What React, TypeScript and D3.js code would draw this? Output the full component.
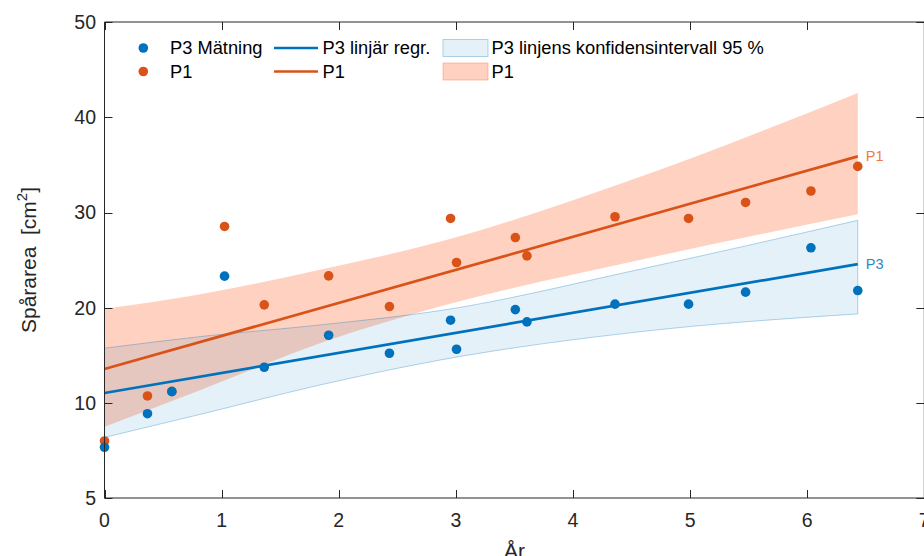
import React from 'react';
import * as d3 from 'd3';

// Measurement times (years) and track area (cm²) for the two sites
const years = [0, 0.367, 0.575, 1.025, 1.364, 1.914, 2.433, 2.955, 3.006, 3.508, 3.607, 4.359, 4.987, 5.474, 6.032, 6.432];
const p3Area = [7.68, 9.45, 11.22, 23.34, 13.78, 17.14, 15.25, 18.72, 15.67, 19.83, 18.54, 20.4, 20.4, 21.66, 26.31, 21.83];
const p1Area = [8.01, 10.77, 11.25, 28.55, 20.33, 23.37, 20.15, 29.39, 24.77, 27.39, 25.47, 29.57, 29.39, 31.07, 32.27, 34.85];

// Linear regression lines (endpoints)
const fitYears = [0, 6.432];
const p3Fit = [11.08, 24.6];
const p1Fit = [13.6, 35.9];

// 95 % confidence bands of the regression lines
const bandYears = [0, 0.82, 1.84, 2.87, 4.58, 6.432];
const p3Lower = [8.2, 9.42, 11.92, 14.55, 17.52, 19.38];
const p3Upper = [15.78, 17.0, 18.22, 19.73, 24.08, 29.19];
const p1Lower = [8.76, 11.4, 16.3, 20.17, 25.06, 29.83];
const p1Upper = [19.91, 21.45, 24.0, 26.97, 33.8, 42.56];

const xTicks = [0, 1, 2, 3, 4, 5, 6, 7];
const yTicks = [5, 10, 20, 30, 40, 50];

const legendRows = [
  { marker: 'P3 Mätning', line: 'P3 linjär regr.', band: 'P3 linjens konfidensintervall 95 %', key: 'p3' },
  { marker: 'P1', line: 'P1', band: 'P1', key: 'p1' },
];

const BLUE = '#0072BD';
const ORANGE = '#D95319';
const BAND_ORANGE = '#FF7F50';
const AXIS = '#262626';
const FONT = '"Liberation Sans", Arial, Helvetica, sans-serif';

const W = 924;
const H = 556;
const left = 104.5;
const right = 924.3;
const top = 22;
const bottom = 498;

export default function App() {
  const x = d3.scaleLinear().domain([0, 7]).range([left, right]);
  const y = d3.scaleLinear().domain([5, 10, 50]).range([bottom, 403.3, top]);

  const band = (lo: number[], hi: number[]) =>
    d3
      .area<number>()
      .x((_, i) => x(bandYears[i]))
      .y0((_, i) => y(lo[i]))
      .y1((_, i) => y(hi[i]))
      .curve(d3.curveMonotoneX)(bandYears.map((_, i) => i)) as string;

  const line = (vals: number[]) =>
    d3
      .line<number>()
      .x((_, i) => x(fitYears[i]))
      .y((_, i) => y(vals[i]))(fitYears.map((_, i) => i)) as string;

  const legendY = [48, 71.5];
  const blueBandLegend = { fill: BLUE, fillOpacity: 0.1, stroke: BLUE, strokeOpacity: 0.3 };
  const orangeBandLegend = { fill: BAND_ORANGE, fillOpacity: 0.36, stroke: BAND_ORANGE, strokeOpacity: 0.45 };

  return (
    <svg width={W} height={H} style={{ position: 'absolute', left: 0, top: 0, background: '#fff' }} fontFamily={FONT}>
      <rect x={0} y={0} width={W} height={H} fill="#fff" />

      {/* confidence bands */}
      <path d={band(p1Lower, p1Upper)} fill={BAND_ORANGE} fillOpacity={0.36} stroke="none" />
      <path d={band(p3Lower, p3Upper)} fill={BLUE} fillOpacity={0.1} stroke={BLUE} strokeOpacity={0.3} strokeWidth={1} />

      {/* regression lines */}
      <path d={line(p3Fit)} fill="none" stroke={BLUE} strokeWidth={2.7} />
      <path d={line(p1Fit)} fill="none" stroke={ORANGE} strokeWidth={2.7} />

      {/* measurements */}
      {years.map((t, i) => (
        <circle key={'o' + i} cx={x(t)} cy={y(p1Area[i])} r={4.8} fill={ORANGE} />
      ))}
      {years.map((t, i) => (
        <circle key={'b' + i} cx={x(t)} cy={y(p3Area[i])} r={4.8} fill={BLUE} />
      ))}

      {/* line end labels */}
      <text x={x(fitYears[1]) + 8} y={y(p1Fit[1])} dy="0.35em" fontSize={14.5} fill="#EE7A45">P1</text>
      <text x={x(fitYears[1]) + 8} y={y(p3Fit[1])} dy="0.35em" fontSize={14.5} fill="#2F86C8">P3</text>

      {/* axes box */}
      <g stroke={AXIS} strokeWidth={1} fill="none">
        <line x1={left} x2={left} y1={top} y2={bottom} />
        <line x1={left} x2={right} y1={bottom} y2={bottom} />
        <line x1={left} x2={right} y1={top} y2={top} />
        <line x1={right} x2={right} y1={top} y2={bottom} />
        {xTicks.map((t) => (
          <g key={'xt' + t}>
            <line x1={Math.round(x(t)) + 0.5} x2={Math.round(x(t)) + 0.5} y1={bottom} y2={bottom - 8} />
            <line x1={Math.round(x(t)) + 0.5} x2={Math.round(x(t)) + 0.5} y1={top} y2={top + 8} />
          </g>
        ))}
        {yTicks.map((t) => (
          <g key={'yt' + t}>
            <line x1={left} x2={left + 8} y1={Math.round(y(t)) + 0.5} y2={Math.round(y(t)) + 0.5} />
            <line x1={right} x2={right - 8} y1={Math.round(y(t)) + 0.5} y2={Math.round(y(t)) + 0.5} />
          </g>
        ))}
      </g>

      {/* tick labels */}
      <g fill={AXIS} fontSize={19.5}>
        {xTicks.map((t) => (
          <text key={'xl' + t} x={x(t)} y={527} textAnchor="middle">{t}</text>
        ))}
        {yTicks.map((t) => (
          <text key={'yl' + t} x={96} y={y(t)} dy="0.35em" textAnchor="end">{t}</text>
        ))}
      </g>

      {/* axis titles */}
      <text x={(left + right) / 2} y={558} textAnchor="middle" fontSize={21} fill={AXIS}>År</text>
      <text transform={`translate(36, ${(top + bottom) / 2}) rotate(-90)`} textAnchor="middle" fontSize={21} fill={AXIS}>
        Spårarea{'\u00a0\u00a0'}[cm<tspan fontSize={15} dy={-9}>2</tspan><tspan dy={9}>]</tspan>
      </text>

      {/* legend */}
      <g fontSize={18.3} fill="#000">
        {legendRows.map((r, i) => {
          const cy = legendY[i];
          const isP3 = r.key === 'p3';
          return (
            <g key={r.key}>
              <circle cx={143.3} cy={cy} r={4.8} fill={isP3 ? BLUE : ORANGE} />
              <text x={170} y={cy} dy="0.35em">{r.marker}</text>
              <line x1={274} x2={318} y1={cy} y2={cy} stroke={isP3 ? BLUE : ORANGE} strokeWidth={2.7} />
              <text x={322.5} y={cy} dy="0.35em">{r.line}</text>
              <rect x={443} y={cy - 8.5} width={45} height={17} {...(isP3 ? blueBandLegend : orangeBandLegend)} strokeWidth={1} />
              <text x={491.5} y={cy} dy="0.35em">{r.band}</text>
            </g>
          );
        })}
      </g>
    </svg>
  );
}
